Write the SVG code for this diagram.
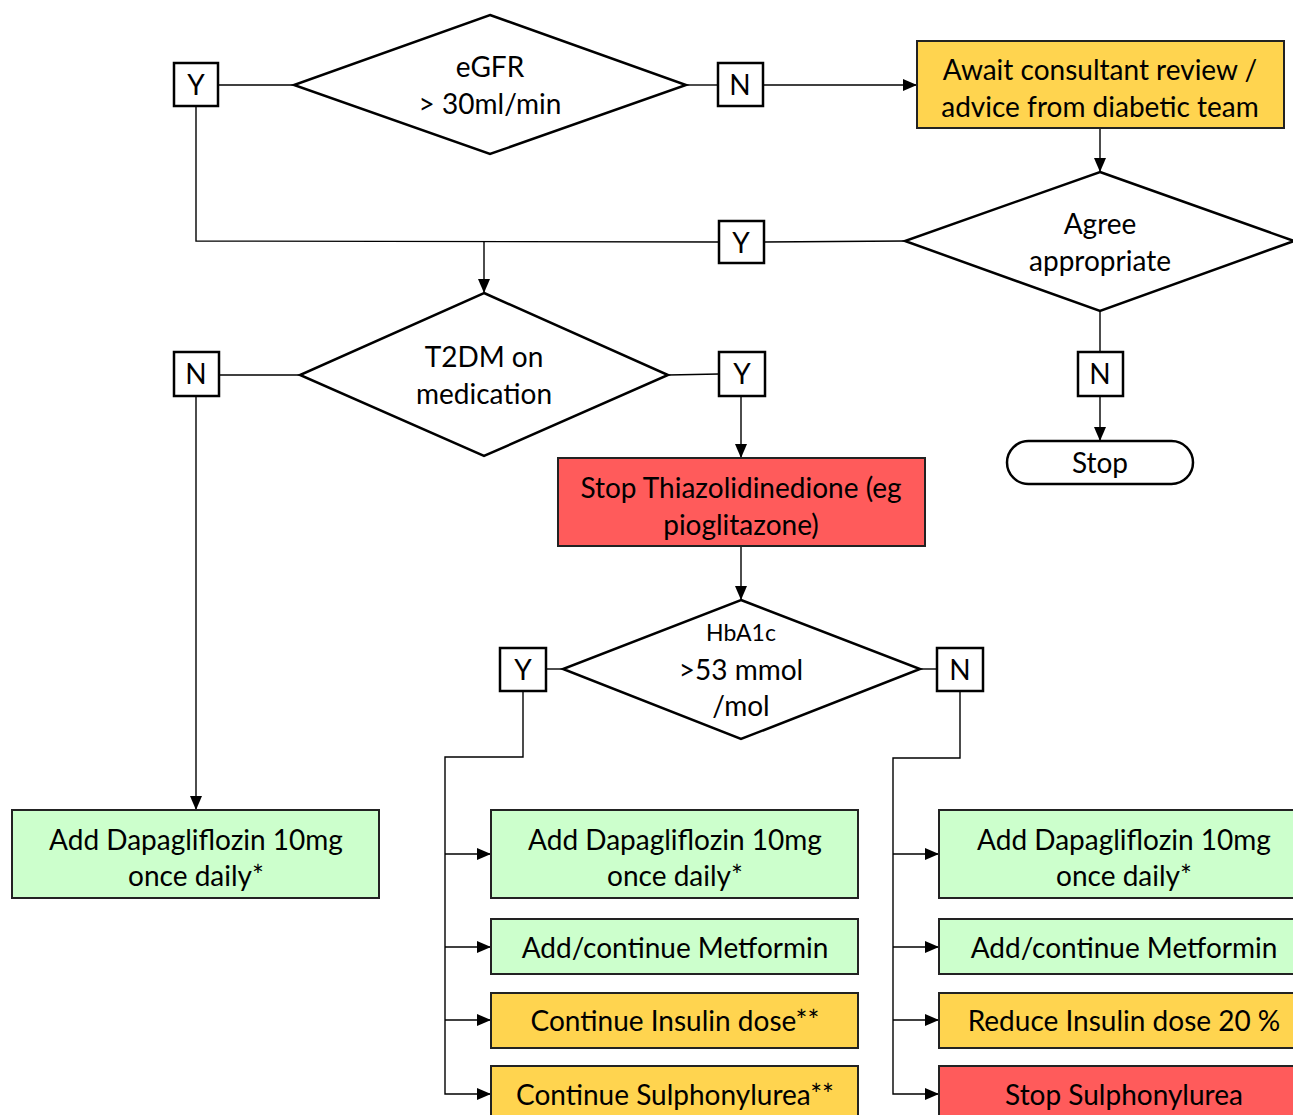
<svg xmlns="http://www.w3.org/2000/svg" width="1293" height="1115" viewBox="0 0 1293 1115">
<defs>
<marker id="arr" markerWidth="14" markerHeight="12" refX="13" refY="6" orient="auto" markerUnits="userSpaceOnUse">
<path d="M0,0 L14,6 L0,12 Z" fill="#000"/>
</marker>
<style>
text{font-family:Lato,"Open Sans","Liberation Sans",sans-serif;font-size:28px;fill:#000;text-anchor:middle;dominant-baseline:central}
.dia{fill:#fff;stroke:#000;stroke-width:2.5}
.lbl{fill:#fff;stroke:#000;stroke-width:2.5}
.box{stroke:#222;stroke-width:2}
.g{fill:#CCFFCC}
.y{fill:#FFD44F}
.r{fill:#FF5B5B}
.c{fill:none;stroke:#000;stroke-width:1.4}
</style>
</defs>
<rect width="1293" height="1115" fill="#fff"/>
<g id="connectors">
<line class="c" x1="218" y1="85" x2="294" y2="85"/>
<line class="c" x1="686" y1="85" x2="718" y2="85"/>
<line class="c" x1="763" y1="85" x2="916" y2="85" marker-end="url(#arr)"/>
<line class="c" x1="1100" y1="128" x2="1100" y2="171" marker-end="url(#arr)"/>
<line class="c" x1="905" y1="241" x2="764" y2="242"/>
<polyline class="c" points="719,242 196,241 196,106"/>
<line class="c" x1="484" y1="241" x2="484" y2="292" marker-end="url(#arr)"/>
<line class="c" x1="219" y1="375" x2="300" y2="375"/>
<line class="c" x1="196" y1="396" x2="196" y2="809" marker-end="url(#arr)"/>
<line class="c" x1="668" y1="375" x2="719" y2="374"/>
<line class="c" x1="741" y1="396" x2="741" y2="457" marker-end="url(#arr)"/>
<line class="c" x1="741" y1="546" x2="741" y2="599" marker-end="url(#arr)"/>
<line class="c" x1="1100" y1="311" x2="1100" y2="352"/>
<line class="c" x1="1100" y1="396" x2="1100" y2="440" marker-end="url(#arr)"/>
<line class="c" x1="546" y1="669" x2="563" y2="669"/>
<line class="c" x1="920" y1="669" x2="937" y2="669"/>
<polyline class="c" points="523,691 523,757 445,757 445,1094 490,1094" marker-end="url(#arr)"/>
<line class="c" x1="445" y1="854" x2="490" y2="854" marker-end="url(#arr)"/>
<line class="c" x1="445" y1="947" x2="490" y2="947" marker-end="url(#arr)"/>
<line class="c" x1="445" y1="1020" x2="490" y2="1020" marker-end="url(#arr)"/>
<polyline class="c" points="960,691 960,758 893,758 893,1094 938,1094" marker-end="url(#arr)"/>
<line class="c" x1="893" y1="854" x2="938" y2="854" marker-end="url(#arr)"/>
<line class="c" x1="893" y1="947" x2="938" y2="947" marker-end="url(#arr)"/>
<line class="c" x1="893" y1="1020" x2="938" y2="1020" marker-end="url(#arr)"/>
</g>
<g id="egfr"><polygon class="dia" points="490,15 686,85 490,154 294,85"/><text x="490" y="66">eGFR</text><text x="490" y="103">&gt; 30ml/min</text></g>
<g id="y1"><rect class="lbl" x="174" y="63" width="44" height="43"/><text x="196" y="84">Y</text></g>
<g id="n1"><rect class="lbl" x="718" y="63" width="45" height="43"/><text x="740" y="84">N</text></g>
<g id="await"><rect class="box y" x="917" y="41" width="367" height="87"/><text x="1100" y="69">Await consultant review /</text><text x="1100" y="106">advice from diabetic team</text></g>
<g id="agree"><polygon class="dia" points="1100,172 1294,241 1100,311 905,241"/><text x="1100" y="223">Agree</text><text x="1100" y="260">appropriate</text></g>
<g id="y2"><rect class="lbl" x="719" y="221" width="45" height="42"/><text x="741" y="242">Y</text></g>
<g id="n2"><rect class="lbl" x="1078" y="352" width="45" height="44"/><text x="1100" y="373">N</text></g>
<g id="stop"><rect x="1007" y="441" width="186" height="43" rx="21.5" fill="#fff" stroke="#000" stroke-width="2.5"/><text x="1100" y="462">Stop</text></g>
<g id="t2dm"><polygon class="dia" points="484,293 668,375 484,456 300,375"/><text x="484" y="356">T2DM on</text><text x="484" y="393">medication</text></g>
<g id="n3"><rect class="lbl" x="174" y="352" width="45" height="44"/><text x="196" y="373">N</text></g>
<g id="y3"><rect class="lbl" x="719" y="352" width="46" height="44"/><text x="742" y="373">Y</text></g>
<g id="stoptzd"><rect class="box r" x="558" y="458" width="367" height="88"/><text x="741" y="487">Stop Thiazolidinedione (eg</text><text x="741" y="524">pioglitazone)</text></g>
<g id="hba1c"><polygon class="dia" points="741,600 920,669 741,739 563,669"/><text x="741" y="632" style="font-size:23px">HbA1c</text><text x="741" y="669">&gt;53 mmol</text><text x="741" y="705">/mol</text></g>
<g id="y4"><rect class="lbl" x="500" y="648" width="46" height="43"/><text x="523" y="669">Y</text></g>
<g id="n4"><rect class="lbl" x="937" y="648" width="46" height="43"/><text x="960" y="669">N</text></g>
<g id="dapa1"><rect class="box g" x="12" y="810" width="367" height="88"/><text x="196" y="839">Add Dapagliflozin 10mg</text><text x="196" y="875">once daily*</text></g>
<g id="dapa2"><rect class="box g" x="491" y="810" width="367" height="88"/><text x="675" y="839">Add Dapagliflozin 10mg</text><text x="675" y="875">once daily*</text></g>
<g id="met2"><rect class="box g" x="491" y="919" width="367" height="55"/><text x="675" y="947">Add/continue Metformin</text></g>
<g id="ins2"><rect class="box y" x="491" y="993" width="367" height="55"/><text x="675" y="1020">Continue Insulin dose**</text></g>
<g id="su2"><rect class="box y" x="491" y="1066" width="367" height="60"/><text x="675" y="1094">Continue Sulphonylurea**</text></g>
<g id="dapa3"><rect class="box g" x="939" y="810" width="367" height="88"/><text x="1124" y="839">Add Dapagliflozin 10mg</text><text x="1124" y="875">once daily*</text></g>
<g id="met3"><rect class="box g" x="939" y="919" width="367" height="55"/><text x="1124" y="947">Add/continue Metformin</text></g>
<g id="ins3"><rect class="box y" x="939" y="993" width="367" height="55"/><text x="1124" y="1020">Reduce Insulin dose 20 %</text></g>
<g id="su3"><rect class="box r" x="939" y="1066" width="367" height="60"/><text x="1124" y="1094">Stop Sulphonylurea</text></g>
</svg>
